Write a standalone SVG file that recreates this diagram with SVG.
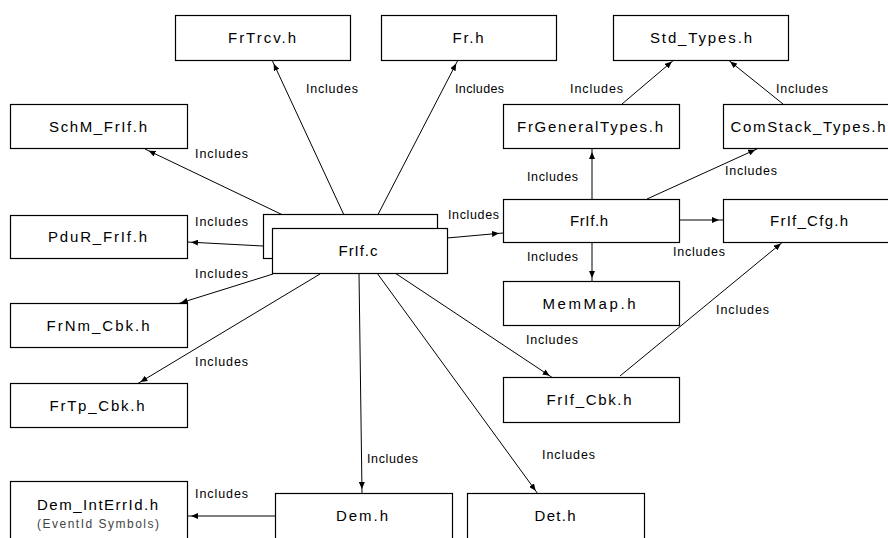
<svg xmlns="http://www.w3.org/2000/svg" width="888" height="538" viewBox="0 0 888 538">
<style>
.box{fill:#fff;stroke:#000;stroke-width:1.2}
.lbl{font-family:"Liberation Sans",Arial,sans-serif;font-size:15px;fill:#000;text-anchor:middle}
.sub{font-family:"Liberation Sans",Arial,sans-serif;font-size:12px;fill:#444;text-anchor:middle}
.inc{font-family:"Liberation Sans",Arial,sans-serif;font-size:12.5px;fill:#000}
.edge{stroke:#000;stroke-width:1;fill:none;marker-end:url(#ah)}
</style>
<defs>
<marker id="ah" viewBox="0 0 12 6" refX="11" refY="3" markerWidth="12" markerHeight="6" markerUnits="userSpaceOnUse" orient="auto">
<path d="M0,0 L7,3 L0,6 z" fill="#000"/>
</marker>
</defs>
<rect width="888" height="538" fill="#fff"/>
<g id="connectors">
<line class="edge" x1="350" y1="228" x2="272" y2="60"/>
<line class="edge" x1="371" y1="228" x2="458" y2="60"/>
<line class="edge" x1="310" y1="228" x2="145" y2="149"/>
<line class="edge" x1="263" y1="246" x2="187" y2="242"/>
<line class="edge" x1="447" y1="238" x2="503" y2="233"/>
<line class="edge" x1="273" y1="274" x2="177" y2="304"/>
<line class="edge" x1="320" y1="274" x2="137" y2="384"/>
<line class="edge" x1="359" y1="273" x2="362" y2="493"/>
<line class="edge" x1="377" y1="273" x2="538" y2="494"/>
<line class="edge" x1="395" y1="273" x2="553" y2="378"/>
<line class="edge" x1="592" y1="199" x2="592" y2="148"/>
<line class="edge" x1="592" y1="242" x2="592" y2="282"/>
<line class="edge" x1="647" y1="199" x2="759" y2="148"/>
<line class="edge" x1="680" y1="220" x2="723" y2="220"/>
<line class="edge" x1="620" y1="376" x2="784" y2="241"/>
<line class="edge" x1="622" y1="104" x2="675" y2="59"/>
<line class="edge" x1="783" y1="104" x2="727" y2="59"/>
<line class="edge" x1="275" y1="516" x2="187" y2="516"/>
<text class="inc" x="306" y="93" textLength="52" lengthAdjust="spacing">Includes</text>
<text class="inc" x="455" y="93" textLength="49" lengthAdjust="spacing">Includes</text>
<text class="inc" x="570" y="93" textLength="53" lengthAdjust="spacing">Includes</text>
<text class="inc" x="776" y="93" textLength="52" lengthAdjust="spacing">Includes</text>
<text class="inc" x="195" y="158" textLength="53" lengthAdjust="spacing">Includes</text>
<text class="inc" x="527" y="181" textLength="51" lengthAdjust="spacing">Includes</text>
<text class="inc" x="725" y="175" textLength="52" lengthAdjust="spacing">Includes</text>
<text class="inc" x="448" y="219" textLength="51" lengthAdjust="spacing">Includes</text>
<text class="inc" x="195" y="226" textLength="53" lengthAdjust="spacing">Includes</text>
<text class="inc" x="673" y="256" textLength="52" lengthAdjust="spacing">Includes</text>
<text class="inc" x="527" y="261" textLength="51" lengthAdjust="spacing">Includes</text>
<text class="inc" x="195" y="278" textLength="53" lengthAdjust="spacing">Includes</text>
<text class="inc" x="716" y="314" textLength="53" lengthAdjust="spacing">Includes</text>
<text class="inc" x="526" y="344" textLength="52" lengthAdjust="spacing">Includes</text>
<text class="inc" x="195" y="366" textLength="53" lengthAdjust="spacing">Includes</text>
<text class="inc" x="542" y="459" textLength="53" lengthAdjust="spacing">Includes</text>
<text class="inc" x="367" y="463" textLength="51" lengthAdjust="spacing">Includes</text>
<text class="inc" x="195" y="498" textLength="53" lengthAdjust="spacing">Includes</text>
</g>
<g id="FrTrcv_h"><rect class="box" x="175.5" y="15.5" width="175" height="45"/><text class="lbl" x="262" y="43" textLength="68" lengthAdjust="spacing">FrTrcv.h</text></g>
<g id="Fr_h"><rect class="box" x="381.5" y="15.5" width="175" height="45"/><text class="lbl" x="468" y="43" textLength="31" lengthAdjust="spacing">Fr.h</text></g>
<g id="Std_Types_h"><rect class="box" x="613.5" y="15.5" width="175" height="45"/><text class="lbl" x="701" y="43" textLength="102" lengthAdjust="spacing">Std_Types.h</text></g>
<g id="SchM_FrIf_h"><rect class="box" x="10.5" y="104.5" width="177" height="44"/><text class="lbl" x="98" y="132" textLength="98" lengthAdjust="spacing">SchM_FrIf.h</text></g>
<g id="FrGeneralTypes_h"><rect class="box" x="503.5" y="104.5" width="176" height="44"/><text class="lbl" x="590" y="132" textLength="146" lengthAdjust="spacing">FrGeneralTypes.h</text></g>
<g id="ComStack_Types_h"><rect class="box" x="723.5" y="104.5" width="176" height="44"/><text class="lbl" x="808" y="132" textLength="155" lengthAdjust="spacing">ComStack_Types.h</text></g>
<g id="PduR_FrIf_h"><rect class="box" x="10.5" y="215.5" width="177" height="43"/><text class="lbl" x="97.5" y="242" textLength="99" lengthAdjust="spacing">PduR_FrIf.h</text></g>
<g id="FrIf_c"><rect class="box" x="263.5" y="214.5" width="174" height="44"/><rect class="box" x="272.5" y="228.5" width="175" height="45"/><text class="lbl" x="358" y="256" textLength="39" lengthAdjust="spacing">FrIf.c</text></g>
<g id="FrIf_h"><rect class="box" x="503.5" y="199.5" width="176" height="43"/><text class="lbl" x="589" y="226" textLength="38" lengthAdjust="spacing">FrIf.h</text></g>
<g id="FrIf_Cfg_h"><rect class="box" x="723.5" y="199.5" width="176" height="43"/><text class="lbl" x="809" y="226" textLength="78" lengthAdjust="spacing">FrIf_Cfg.h</text></g>
<g id="MemMap_h"><rect class="box" x="503.5" y="281.5" width="176" height="44"/><text class="lbl" x="589" y="309" textLength="93" lengthAdjust="spacing">MemMap.h</text></g>
<g id="FrNm_Cbk_h"><rect class="box" x="10.5" y="303.5" width="177" height="44"/><text class="lbl" x="98" y="331" textLength="103" lengthAdjust="spacing">FrNm_Cbk.h</text></g>
<g id="FrIf_Cbk_h"><rect class="box" x="503.5" y="377.5" width="176" height="45"/><text class="lbl" x="589" y="405" textLength="85" lengthAdjust="spacing">FrIf_Cbk.h</text></g>
<g id="FrTp_Cbk_h"><rect class="box" x="10.5" y="383.5" width="177" height="44"/><text class="lbl" x="97" y="411" textLength="95" lengthAdjust="spacing">FrTp_Cbk.h</text></g>
<g id="Dem_IntErrId_h"><rect class="box" x="10.5" y="481.5" width="177" height="60"/><text class="lbl" x="97.5" y="510" textLength="121" lengthAdjust="spacing">Dem_IntErrId.h</text><text class="sub" x="98" y="528" textLength="122" lengthAdjust="spacing">(EventId Symbols)</text></g>
<g id="Dem_h"><rect class="box" x="275.5" y="493.5" width="177" height="48"/><text class="lbl" x="362" y="521" textLength="52" lengthAdjust="spacing">Dem.h</text></g>
<g id="Det_h"><rect class="box" x="467.5" y="493.5" width="177" height="48"/><text class="lbl" x="555" y="521" textLength="41" lengthAdjust="spacing">Det.h</text></g>
</svg>
